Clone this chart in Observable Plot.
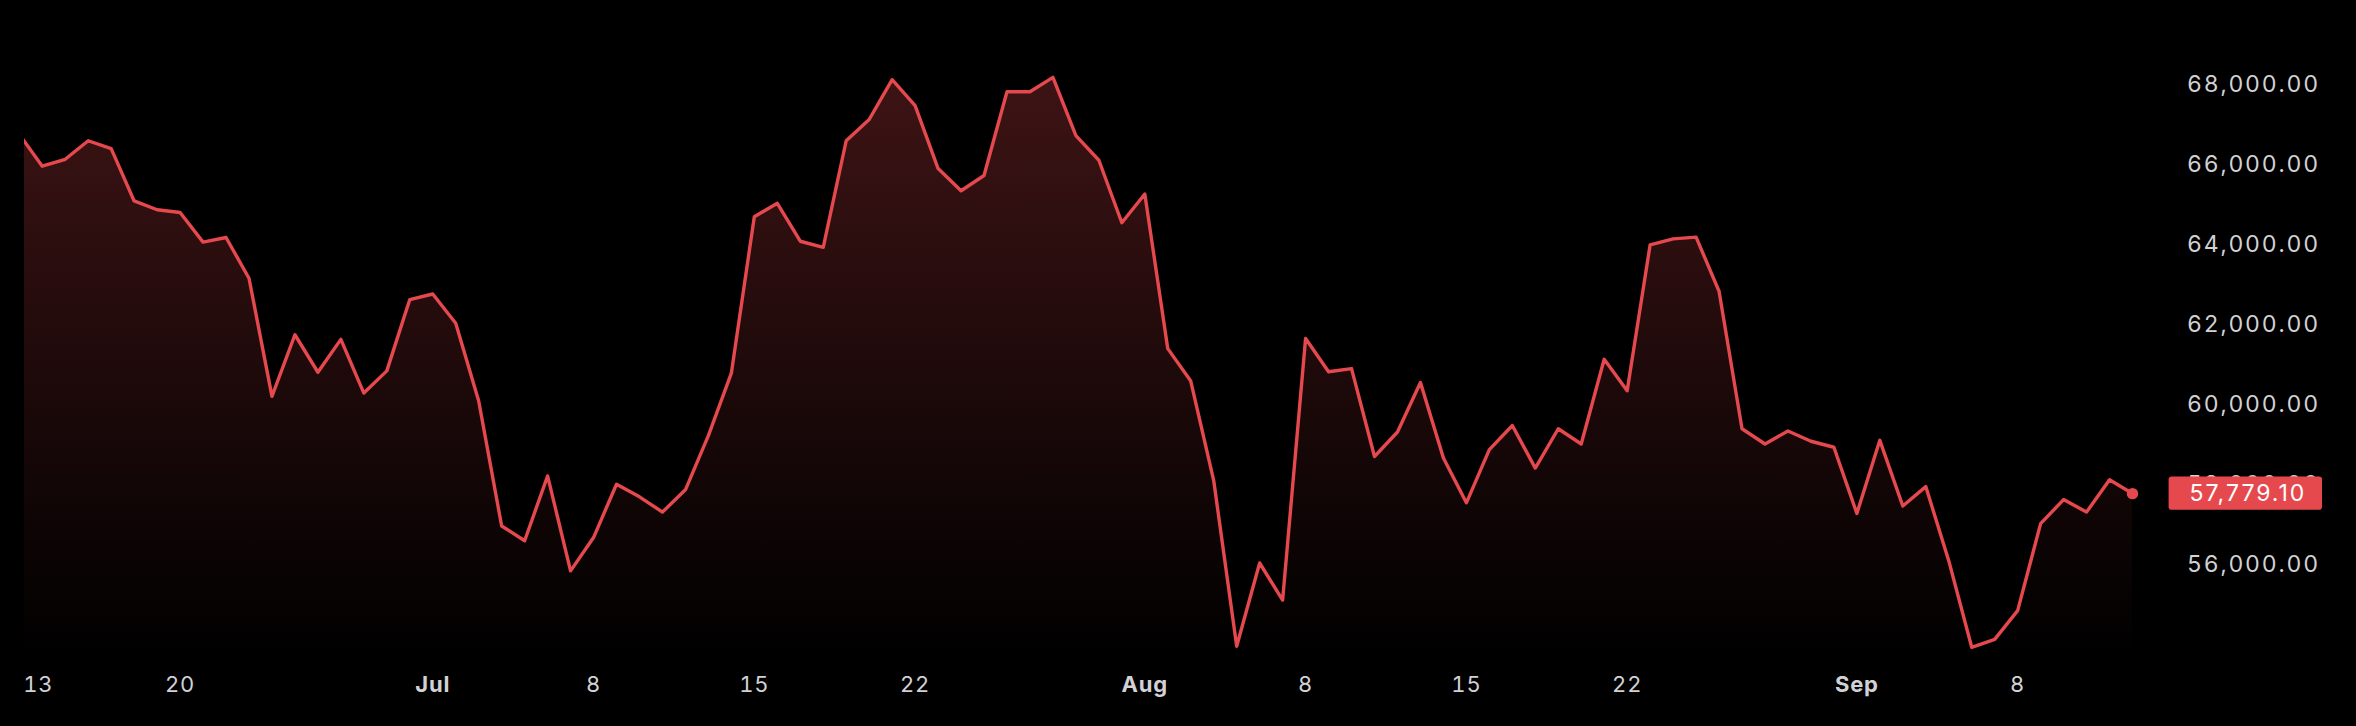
<!DOCTYPE html>
<html>
<head>
<meta charset="utf-8">
<script src="https://cdn.jsdelivr.net/npm/d3@7"></script>
<script src="https://cdn.jsdelivr.net/npm/@observablehq/plot@0.6"></script>
<style>
  html, body { margin: 0; padding: 0; background: #000; }
  #chart svg { display: block; }
  g[aria-label="y-axis tick label"] text { letter-spacing: 1.8px; }
  g[aria-label="x-axis tick label"] text { letter-spacing: 0.8px; }
  g[aria-label="text"] text { letter-spacing: 2px; }
</style>
</head>
<body>
<div id="chart"></div>
<script>
// ---- data ----
const startDate = "2024-06-13";
const prices = [
  66763, 65964, 66138, 66601, 66404, 65096, 64876, 64807, 64066, 64182,
  63163, 60212, 61751, 60814, 61635, 60293, 60848, 62631,            // Jun 13 – Jun 30
  62770, 62040, 60096, 56971, 56601, 58221, 55848, 56681, 58013, 57700,
  57318, 57874, 59228, 60790, 64702, 65038, 64089, 63938, 66601, 67133,
  68128, 67480, 65906, 65351, 65733, 67827, 67827, 68186, 66728, 66114,
  64552,                                                              // Jul
  65270, 61404, 60594, 58105, 53962, 56045, 55119, 61658, 60825, 60906,
  58707, 59320, 60559, 58672, 57550, 58881, 59483, 58418, 59401, 59020,
  61138, 60351, 64000, 64147, 64193, 62839, 59401, 59020, 59344, 59089,
  58939,                                                              // Aug
  57283, 59112, 57469, 57955, 56103, 53938, 54135, 54853, 57029, 57630,
  57318, 58128, 57779.10                                              // Sep 1 – Sep 13
];
const firstTick = ["2024-06-13"];
const dayTicks = ["2024-06-20", "2024-07-08", "2024-07-15", "2024-07-22",
                  "2024-08-08", "2024-08-15", "2024-08-22", "2024-09-08"];
const monthTicks = ["2024-07-01", "2024-08-01", "2024-09-01"];
const yTicks = [56000, 58000, 60000, 62000, 64000, 66000, 68000];

// ---- build table ----
const start = new Date(startDate + "T00:00:00Z");
const data = prices.map((v, i) => ({date: d3.utcDay.offset(start, i), value: v}));
const last = data[data.length - 1];
const toDates = arr => arr.map(s => new Date(s + "T00:00:00Z"));

const lineColor = "#e5484d";
const textColor = "#d1d1d6";
const font = "Inter, 'Noto Sans', sans-serif";
const fmt = d3.format(",.2f");

const chart = Plot.plot({
  width: 2356,
  height: 726,
  marginLeft: 24,
  marginRight: 224,
  marginTop: 0,
  marginBottom: 76,
  style: {background: "#000", color: textColor, fontFamily: font, fontSize: "22px", overflow: "visible"},
  x: {type: "utc", domain: [new Date("2024-06-13T05:26:00Z"), new Date("2024-09-13T00:00:00Z")]},
  y: {domain: [53857.5, 70107.5]},
  marks: [
    Plot.areaY(data, {x: "date", y: "value", fill: "url(#areaGrad)", clip: true}),
    Plot.lineY(data, {x: "date", y: "value", stroke: lineColor, strokeWidth: 3.4, clip: true}),
    Plot.axisY({anchor: "right", label: null, ticks: yTicks, tickFormat: fmt, tickSize: 0, tickPadding: 54.5,
                fontSize: 23, fill: textColor, fontFamily: font}),
    Plot.axisX({label: null, ticks: toDates(dayTicks), tickFormat: d3.utcFormat("%-d"), tickSize: 0, tickPadding: 26,
                fontSize: 22, fill: textColor, fontFamily: font}),
    Plot.axisX({label: null, ticks: toDates(monthTicks), tickFormat: d3.utcFormat("%b"), tickSize: 0, tickPadding: 26,
                fontSize: 22, fontWeight: 700, fill: textColor, fontFamily: font}),
    Plot.axisX({label: null, ticks: toDates(firstTick), tickFormat: d3.utcFormat("%-d"), tickSize: 0, tickPadding: 26,
                textAnchor: "start", dx: 4, fontSize: 22, fill: textColor, fontFamily: font}),
    Plot.dot([last], {x: "date", y: "value", r: 5.7, fill: lineColor}),
    Plot.rect([last], {x1: "date", x2: "date", y1: "value", y2: "value",
                       insetLeft: 36.6, insetRight: -190, insetTop: -16.7, insetBottom: -16.7,
                       fill: lineColor, rx: 3}),
    Plot.text([last], {x: "date", y: "value", text: d => fmt(d.value), textAnchor: "start", dx: 57,
                       fill: "#ffffff", fontSize: 23, fontFamily: font})
  ]
});

// gradient for the area fill
const defs = d3.select(chart).insert("defs", ":first-child");
const grad = defs.append("linearGradient")
  .attr("id", "areaGrad")
  .attr("gradientUnits", "userSpaceOnUse")
  .attr("x1", 0).attr("x2", 0).attr("y1", 75).attr("y2", 660);
grad.append("stop").attr("offset", "0%").attr("stop-color", lineColor).attr("stop-opacity", 0.27);
grad.append("stop").attr("offset", "100%").attr("stop-color", lineColor).attr("stop-opacity", 0.0);

document.getElementById("chart").appendChild(chart);
</script>
</body>
</html>
